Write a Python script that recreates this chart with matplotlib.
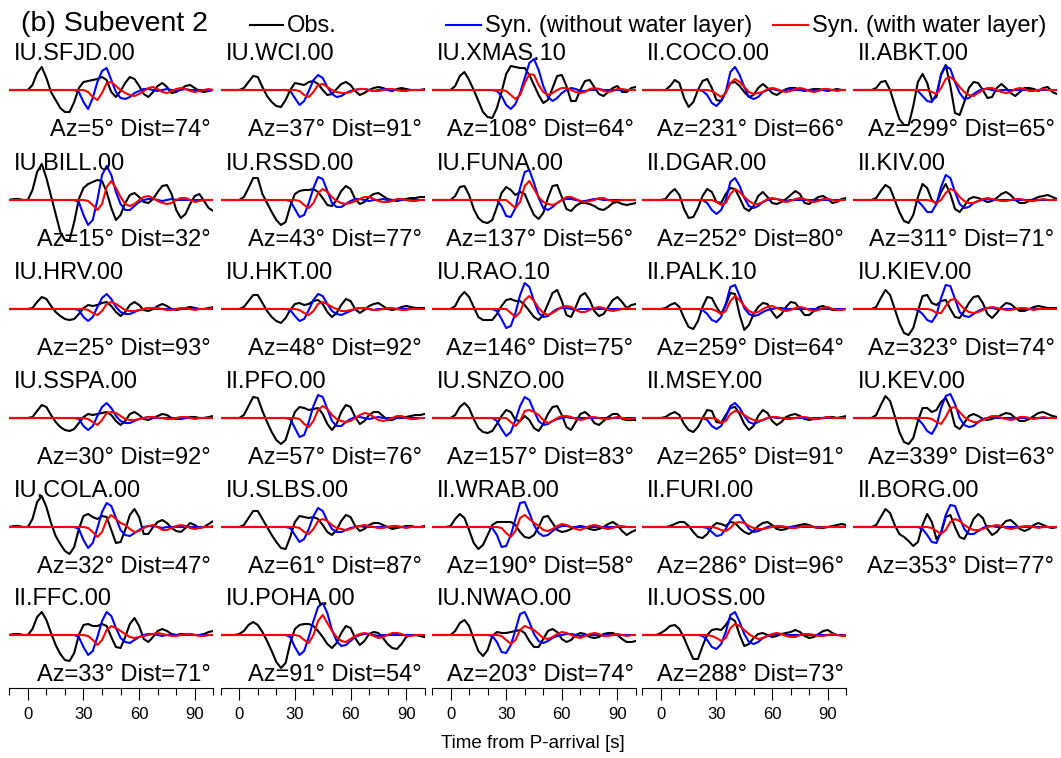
import numpy as np
from matplotlib import pyplot as plt
from matplotlib.lines import Line2D
from matplotlib.ticker import MultipleLocator

plt.rcParams["font.family"] = ["Liberation Sans", "DejaVu Sans"]

# sample times, seconds after the P arrival
obs_times = np.arange(-10, 100.1, 2.5)
syn_times = np.arange(20, 100.1, 2.5)
# synthetics are zero before this time
syn_onset = 20

# stations sorted by azimuth, laid out column by column
stations = [
    "IU.SFJD.00", "IU.BILL.00", "IU.HRV.00", "IU.SSPA.00", "IU.COLA.00", "II.FFC.00",
    "IU.WCI.00", "IU.RSSD.00", "IU.HKT.00", "II.PFO.00", "IU.SLBS.00", "IU.POHA.00",
    "IU.XMAS.10", "IU.FUNA.00", "IU.RAO.10", "IU.SNZO.00", "II.WRAB.00", "IU.NWAO.00",
    "II.COCO.00", "II.DGAR.00", "II.PALK.10", "II.MSEY.00", "II.FURI.00", "II.UOSS.00",
    "II.ABKT.00", "II.KIV.00", "IU.KIEV.00", "IU.KEV.00", "II.BORG.00",
]
azimuths = [5, 15, 25, 30, 32, 33, 37, 43, 48, 57, 61, 91, 108, 137, 146, 157, 190, 203,
            231, 252, 259, 265, 286, 288, 299, 311, 323, 339, 353]
distances = [74, 32, 93, 92, 47, 71, 91, 77, 92, 76, 87, 54, 64, 56, 75, 83, 58, 74,
             66, 80, 64, 91, 96, 73, 65, 71, 74, 63, 77]

# observed P waveforms (normalised amplitude)
obs = {
    "IU.SFJD.00": [0, 0, 0, 0, 0, 5, 17, 23, 12,
                   -2, -10, -18, -22, -22, -12, 2, 8,
                   9, 10, 11, 13, 10, -2, -7, -1,
                   7, 13, 11, 4, -4, -7, -2, 4,
                   7, 3, -3, -2, 1, 4, 5, 2,
                   -1, -2, -1, 0],
    "IU.BILL.00": [0, 1, 1, 0, 0, 10, 28, 36, 22,
                   4, -14, -32, -40, -40, -22, 1, 12,
                   16, 18, 20, 19, 8, -8, -20, -15,
                   -3, 5, 7, 3, -2, -3, 1, 8,
                   14, 15, 6, -10, -18, -14, -4, 4,
                   6, -1, -8, -11],
    "IU.HRV.00": [0, 0, 0, 0, 0, 1, 7, 12, 10,
                  3, -3, -7, -10, -11, -10, -5, 1,
                  4, 3, 4, 6, 7, 3, -3, -7,
                  -3, 4, 7, 4, -1, -2, 0, 3,
                  5, 3, 0, -1, 0, 1, 2, 1,
                  0, 0, 1, 2],
    "IU.SSPA.00": [0, 0, 0, 0, 0, 1, 7, 13, 11,
                   3, -4, -9, -12, -13, -11, -5, 1,
                   4, 3, 4, 5, 6, 3, -3, -7,
                   -3, 4, 6, 3, -1, -2, 0, 2,
                   4, 3, 0, -1, -1, 0, 1, 1,
                   0, 0, 1, 2],
    "IU.COLA.00": [0, 1, 1, 0, 0, 8, 25, 31, 20,
                   4, -9, -17, -24, -27, -20, -2, 11,
                   13, 10, 8, 11, 10, -3, -16, -15,
                   -3, 12, 18, 10, -7, -7, 0, 5,
                   7, 4, -1, -4, -5, -1, 4, 2,
                   -1, 0, 3, 6],
    "II.FFC.00": [0, 1, 1, 0, 0, 6, 18, 23, 15,
                  2, -10, -19, -25, -26, -18, 0, 10,
                  11, 9, 9, 11, 9, -2, -12, -13,
                  -2, 11, 17, 9, -4, -7, -2, 4,
                  6, 4, 1, 0, 1, 1, 1, 0,
                  0, 1, 3, 4],
    "IU.WCI.00": [0, 0, 0, 0, 0, 2, 8, 14, 13,
                  3, -6, -12, -16, -17, -10, 0, 7,
                  6, 5, 8, 9, 6, 0, -5, -4,
                  1, 6, 8, 5, -1, -5, -3, 0,
                  2, 3, 2, 0, -1, 1, 2, 1,
                  0, 0, 0, 1],
    "IU.RSSD.00": [0, 0, 0, 0, 0, 3, 12, 22, 22,
                   6, -3, -12, -20, -25, -22, -6, 6,
                   9, 10, 10, 11, 8, 2, -5, -6,
                   0, 9, 14, 11, 1, -4, -2, 3,
                   6, 7, 4, 1, 0, -1, 0, 1,
                   2, 2, 3, 3],
    "IU.HKT.00": [0, 0, 0, 0, 0, 2, 8, 14, 14,
                  6, -2, -8, -12, -14, -9, -1, 5,
                  6, 4, 5, 8, 9, 5, -3, -8,
                  -4, 4, 10, 8, 0, -4, -1, 3,
                  5, 6, 3, 0, -1, 0, 2, 3,
                  2, 1, 1, 1],
    "II.PFO.00": [0, 0, 0, 0, 0, 3, 12, 21, 20,
                  7, -4, -14, -22, -26, -22, -7, 6,
                  11, 10, 8, 9, 10, 4, -6, -12,
                  -6, 6, 13, 11, 1, -6, -3, 3,
                  6, 6, 2, -2, -2, 0, 1, 1,
                  2, 3, 3, 4],
    "IU.SLBS.00": [0, 0, 0, 0, 0, 2, 9, 16, 16,
                   8, 0, -8, -15, -21, -22, -10, 5,
                   11, 10, 9, 10, 8, 2, -5, -8,
                   -3, 6, 12, 10, 1, -4, -2, 2,
                   4, 4, 2, 0, -2, -1, 0, 1,
                   1, 0, 0, 1],
    "IU.POHA.00": [0, 0, 0, 0, 1, 4, 10, 13, 10,
                   3, -6, -16, -27, -33, -28, -8, 6,
                   10, 11, 11, 9, 4, -2, -9, -13,
                   -8, 2, 9, 7, -3, -10, -6, 1,
                   3, 2, -3, -9, -13, -14, -9, -2,
                   0, 0, -1, -2],
    "IU.XMAS.10": [0, 0, 0, 0, 0, 4, 14, 18, 10,
                   0, -11, -22, -27, -28, -18, -2, 16,
                   24, 23, 22, 22, 15, 5, -5, -13,
                   -10, 2, 14, 15, 4, -11, -11, 0,
                   9, 10, 3, -4, -6, -2, 2, 4,
                   -2, -2, 2, 3],
    "IU.FUNA.00": [0, 0, 0, 0, 0, 4, 13, 14, 5,
                   -9, -18, -22, -23, -20, -7, 7, 13,
                   10, 5, 8, 6, -5, -15, -19, -13,
                   2, 14, 15, 3, -9, -11, -6, -3,
                   -3, -4, -6, -9, -10, -7, -3, -2,
                   -4, -5, -4, -3],
    "IU.RAO.10": [0, 0, 0, 0, 0, 3, 12, 17, 12,
                  2, -8, -11, -11, -11, -5, 3, 9,
                  10, 8, 8, 4, -2, -8, -11, -6,
                  5, 16, 19, 8, -6, -8, 2, 13,
                  16, 9, -2, -7, -5, 2, 9, 12,
                  7, 1, 4, 5],
    "IU.SNZO.00": [0, 0, 0, 0, 0, 3, 11, 15, 10,
                   -1, -10, -14, -15, -13, -6, 2, 8,
                   6, -2, -3, 2, -2, -10, -13, -6,
                   4, 11, 12, 3, -9, -12, -4, 4,
                   6, 2, -5, -7, -3, 1, 4, 4,
                   -1, -2, -2, -2],
    "II.WRAB.00": [0, 0, 0, 0, 1, 8, 13, 9, -3,
                   -16, -22, -18, -8, 2, 5, 5, 5,
                   5, 2, -5, -10, -11, -8, 0, 10,
                   11, 4, -3, -5, -4, -2, 0, 1,
                   0, -2, -3, -2, 0, 3, 5, 2,
                   -4, -8, -5, -3],
    "IU.NWAO.00": [0, 0, 0, 0, 0, 4, 12, 15, 9,
                   -4, -16, -21, -15, -1, 3, 2, 2,
                   3, 4, 5, 2, -6, -12, -12, -4,
                   4, 6, 3, -4, -7, -5, 0, 2,
                   1, -2, -3, -2, 1, 2, 2, 0,
                   -4, -7, -7, -6],
    "II.COCO.00": [0, 0, 0, 0, 0, 0, 4, 10, 7,
                   -8, -17, -12, 0, 9, 11, 2, -10,
                   -11, -2, 7, 8, 4, -2, -7, -5,
                   2, 6, 2, -3, -5, -2, 1, 2,
                   2, 0, -1, 0, 1, 1, 0, -1,
                   0, 1, 0, 0],
    "II.DGAR.00": [0, 0, 0, 0, 0, 1, 7, 11, 5,
                   -9, -18, -17, -8, 4, 11, 8, -2,
                   -3, 6, 12, 11, 2, -8, -11, -6,
                   4, 8, 3, -3, -4, -2, 1, 5,
                   9, 6, -3, -4, 0, 3, 4, 1,
                   -3, -2, 1, 2],
    "II.PALK.10": [0, 0, 0, 0, 0, 1, 4, 6, 2,
                   -9, -18, -20, -12, 2, 12, 11, 2,
                   -5, 4, 16, 15, -6, -21, -16, -5,
                   2, 6, 5, -3, -9, -5, 2, 7,
                   6, 0, -6, -6, -2, 2, 3, 1,
                   -1, -1, 0, 0],
    "II.MSEY.00": [0, 0, 0, 0, 0, 1, 4, 6, 3,
                   -6, -12, -14, -9, 0, 8, 7, -4,
                   -5, 3, 10, 11, 4, -6, -12, -8,
                   2, 8, 5, -3, -7, -4, 1, 3,
                   4, 2, -1, -2, -1, 0, 0, 1,
                   1, 0, 1, 2],
    "II.FURI.00": [0, 0, 0, 0, 0, 0, 1, 3, 5,
                   5, 1, -5, -10, -11, -7, 0, 4,
                   3, 1, 5, 4, -1, -5, -7, -4,
                   1, 4, 5, 2, -2, -3, -2, 0,
                   1, 2, 3, 2, 0, -1, -1, 0,
                   1, 2, 3, 2],
    "II.UOSS.00": [0, 0, 0, 0, 2, 5, 9, 10, 6,
                   -3, -14, -24, -24, -11, 0, 5, 6,
                   5, 10, 17, 14, 0, -11, -9, -3,
                   1, 2, 0, -2, -1, 1, 2, 3,
                   5, 3, -1, -3, -2, 1, 4, 5,
                   2, 0, 0, -1],
    "II.ABKT.00": [0, 0, 0, 0, 0, 2, 8, 9, 0,
                   -15, -29, -35, -35, -16, 8, 16, 7,
                   -10, -7, 16, 25, 4, -23, -25, -12,
                   2, 8, 7, 0, -8, -7, 2, 6,
                   2, -3, -6, -2, 2, 2, 1, -1,
                   2, 3, -2, -4],
    "II.KIV.00": [0, 0, 0, 0, 0, 2, 9, 15, 12,
                  0, -12, -21, -23, -15, 3, 16, 12,
                  0, -4, 8, 16, 6, -9, -12, -6,
                  1, 3, 2, 0, -2, -1, 2, 6,
                  8, 5, 0, -3, -3, -1, 1, 3,
                  4, 5, 3, 1],
    "IU.KIEV.00": [0, 0, 0, 0, 0, 2, 11, 19, 14,
                   0, -14, -24, -26, -19, -2, 13, 14,
                   6, 4, 8, 9, 0, -8, -9, -2,
                   6, 12, 13, 6, -5, -9, -4, 2,
                   6, 5, 1, -2, -2, 0, 2, 3,
                   2, 1, 1, 1],
    "IU.KEV.00": [0, 0, 0, 0, 0, 3, 13, 22, 17,
                  2, -14, -24, -26, -20, -3, 10, 10,
                  6, 8, 16, 20, 10, -8, -11, -5,
                  2, 4, 2, -1, -2, -1, 1, 3,
                  5, 4, 0, -3, -3, -1, 2, 5,
                  6, 4, 2, 1],
    "II.BORG.00": [0, 0, 0, 0, 0, 2, 10, 18, 14,
                   2, -7, -10, -14, -19, -15, 2, 13,
                   5, -12, -6, 10, 12, 0, -10, -12,
                   -3, 8, 13, 9, -2, -8, -5, 1,
                   6, 7, 3, -2, -4, -2, 2, 4,
                   2, 0, -1, 0],
}

# synthetics without the water layer, from syn_onset on
syn_dry = {
    "IU.SFJD.00": [0, 0, 0, -2, -12, -19, -8, 8, 19, 22, 10, -2, -8, -9, -7, -3,
                   -1, 1, 1, 0, -1, 0, 1, 0, -1, 0, 1, 0, 0, 0, 0, 0, 0],
    "IU.BILL.00": [0, 0, 0, -2, -15, -25, -20, 0, 25, 34, 25, 8, -4, -10, -10, -6,
                   -2, 0, 1, 1, 0, -1, 0, 1, 0, 0, 0, 0, 0, 0, 0, 0, 0],
    "IU.HRV.00": [0, 0, 0, -1, -8, -12, -8, 2, 11, 15, 10, 2, -3, -5, -5, -3,
                  -1, 0, 1, 0, 0, 0, 0, 0, 0, 0, 0, 0, 0, 0, 0, 0, 0],
    "IU.SSPA.00": [0, 0, 0, -1, -8, -12, -8, 2, 11, 15, 10, 2, -3, -5, -5, -3,
                   -1, 0, 1, 0, 0, 0, 0, 0, 0, 0, 0, 0, 0, 0, 0, 0, 0],
    "IU.COLA.00": [0, 0, 0, -2, -13, -21, -16, -1, 15, 24, 21, 9, -3, -8, -9, -6,
                   -3, 0, 1, 1, 0, -1, 0, 0, 0, 0, 0, 0, 0, 0, 0, 0, 0],
    "II.FFC.00": [0, 0, 0, -2, -12, -20, -16, -2, 14, 23, 19, 7, -3, -7, -8, -5,
                  -2, 0, 1, 1, 0, -1, 0, 0, 0, 0, 0, 0, 0, 0, 0, 0, 0],
    "IU.WCI.00": [0, 0, 0, -1, -8, -15, -11, -1, 10, 15, 12, 3, -4, -7, -6, -3,
                  -1, 0, 1, 1, 0, -1, 0, 1, 0, 0, 0, 0, 0, 0, 0, 0, 0],
    "IU.RSSD.00": [0, 0, 0, -1, -9, -17, -15, -3, 12, 23, 21, 9, -3, -7, -7, -4,
                   -1, 1, 1, 0, -1, 0, 0, 1, 0, 0, 0, 0, 0, 0, 0, 0, 0],
    "IU.HKT.00": [0, 0, 0, -1, -7, -12, -10, -1, 9, 15, 13, 5, -2, -5, -6, -4,
                  -2, 0, 1, 0, 0, -1, 0, 0, 0, 0, 0, 0, 0, 0, 0, 0, 0],
    "II.PFO.00": [0, 0, 0, -1, -10, -19, -17, -4, 12, 23, 21, 9, -3, -8, -8, -4,
                  -1, 1, 1, 0, -1, 0, 1, 0, 0, 0, 0, 0, 0, 0, 0, 0, 0],
    "IU.SLBS.00": [0, 0, 0, -1, -8, -15, -12, -2, 11, 19, 16, 6, -2, -5, -5, -3,
                   -1, 0, 1, 0, 0, 0, 0, 0, 0, 0, 0, 0, 0, 0, 0, 0, 0],
    "IU.POHA.00": [0, 0, 0, -2, -12, -20, -16, -2, 14, 28, 32, 22, 5, -6, -11, -10,
                   -6, -2, 0, 1, 1, 0, -1, 0, 0, 0, 0, 0, 0, 0, 0, 0, 0],
    "IU.XMAS.10": [0, 0, -1, -6, -15, -19, -14, -3, 12, 27, 31, 20, 4, -7, -11, -8,
                   -3, 0, 2, 1, -1, -1, 0, 0, 1, 0, 0, 0, 0, 0, 0, 0, 0],
    "IU.FUNA.00": [0, 0, 0, -6, -16, -17, -8, 12, 28, 30, 17, 2, -8, -10, -7, -3,
                   0, 1, 1, 0, -1, -1, 0, 1, 1, 0, 0, 0, 0, 0, 0, 0, 0],
    "IU.RAO.10": [0, 0, -2, -10, -19, -17, -4, 14, 26, 22, 8, -4, -8, -7, -3, 0,
                  1, 1, 0, -1, 0, 0, 0, 0, 0, 0, 0, 0, 0, 0, 0, 0, 0],
    "IU.SNZO.00": [0, 0, -3, -11, -18, -14, -2, 12, 21, 18, 7, -3, -7, -6, -3, -1,
                   0, 1, 0, 0, 0, 0, 0, 0, 0, 0, 0, 0, 0, 0, 0, 0, 0],
    "II.WRAB.00": [0, -1, -8, -20, -19, -8, 8, 24, 25, 14, 2, -6, -9, -8, -4, -1,
                   1, 1, 0, 0, 0, 0, 0, 0, 0, 0, 0, 0, 0, 0, 0, 0, 0],
    "IU.NWAO.00": [0, -1, -7, -17, -18, -10, 5, 21, 23, 13, 1, -6, -8, -6, -3, -1,
                   0, 1, 1, 0, -1, 0, 0, 0, 0, 0, 0, 0, 0, 0, 0, 0, 0],
    "II.COCO.00": [0, -1, -5, -13, -16, -11, -2, 18, 23, 15, 3, -7, -9, -7, -2, 0,
                   1, 0, -1, 0, 1, 0, 0, 0, 0, 0, 0, 0, 0, 0, 0, 0, 0],
    "II.DGAR.00": [0, 0, -3, -10, -14, -10, 0, 18, 22, 14, 2, -6, -8, -6, -2, 0,
                   1, 1, 0, -1, 0, 0, 0, 0, 0, 0, 0, 0, 0, 0, 0, 0, 0],
    "II.PALK.10": [0, -1, -5, -11, -13, -8, 5, 22, 24, 13, 1, -5, -7, -6, -3, -1,
                   0, 1, 1, 0, 0, 0, 0, 0, 0, 0, 0, 0, 0, 0, 0, 0, 0],
    "II.MSEY.00": [0, 0, -2, -8, -11, -8, 1, 12, 15, 10, 2, -4, -6, -4, -2, 0,
                   1, 0, 0, 0, 0, 0, 0, 0, 0, 0, 0, 0, 0, 0, 0, 0, 0],
    "II.FURI.00": [0, 0, -1, -5, -9, -8, -2, 7, 12, 12, 5, -2, -5, -4, -2, 0,
                   1, 0, 0, 0, 0, 0, 0, 0, 0, 0, 0, 0, 0, 0, 0, 0, 0],
    "II.UOSS.00": [0, -1, -5, -12, -14, -9, 3, 20, 23, 13, 1, -7, -9, -7, -3, -1,
                   0, 1, 1, 0, 0, 0, 0, 0, 0, 0, 0, 0, 0, 0, 0, 0, 0],
    "II.ABKT.00": [0, 0, -1, -6, -11, -12, -4, 15, 24, 21, 8, -3, -9, -8, -4, -1,
                   1, 1, 0, -1, 0, 0, 0, 0, 0, 0, 0, 0, 0, 0, 0, 0, 0],
    "II.KIV.00": [0, 0, -1, -6, -12, -12, -4, 13, 25, 22, 8, -4, -8, -7, -3, -1,
                  0, 1, 0, 0, 0, 0, 0, 0, 0, 0, 0, 0, 0, 0, 0, 0, 0],
    "IU.KIEV.00": [0, 0, -1, -5, -11, -13, -6, 11, 24, 23, 10, -3, -7, -8, -5, -2,
                   0, 1, 1, 0, 0, 0, 0, 0, 0, 0, 0, 0, 0, 0, 0, 0, 0],
    "IU.KEV.00": [0, 0, -1, -6, -13, -16, -8, 10, 22, 24, 14, 0, -7, -9, -8, -4,
                  -1, 0, 1, 0, 0, 0, 0, 0, 0, 0, 0, 0, 0, 0, 0, 0, 0],
    "II.BORG.00": [0, 0, 0, -2, -8, -15, -16, -5, 12, 22, 21, 9, -2, -7, -7, -4,
                   -1, 1, 1, 0, 0, 0, 0, 0, 0, 0, 0, 0, 0, 0, 0, 0, 0],
}

# synthetics with the water layer, from syn_onset on
syn_wet = {
    "IU.SFJD.00": [0, 0, 0, 0, 0, -2, -7, -10, -3, 7, 8, 4, 0, -3, -5, -6,
                   -4, -1, 2, 3, 1, -2, -3, -1, 1, 2, 1, -1, -2, -1, 0, 1, 0],
    "IU.BILL.00": [0, 0, 0, 0, 0, -1, -5, -10, -4, 13, 19, 12, 3, -4, -6, -4,
                   0, 3, 4, 2, -1, -3, -4, -3, 0, 2, 2, 0, -2, -1, 0, 0, 0],
    "IU.HRV.00": [0, 0, 0, 0, 0, -1, -4, -6, -2, 5, 7, 5, 2, -1, -2, -2,
                  -1, 0, 1, 1, 1, 0, -1, -1, 0, 1, 1, 0, -1, 0, 0, 0, 1],
    "IU.SSPA.00": [0, 0, 0, 0, 0, -1, -4, -7, -2, 5, 6, 5, 2, -1, -2, -2,
                   -1, 0, 1, 1, 0, 0, -1, -1, 0, 1, 1, 0, -1, 0, 0, 0, 0],
    "IU.COLA.00": [0, 0, 0, 0, 0, -1, -5, -10, -5, 7, 12, 8, 4, 2, -2, -5,
                   -4, -1, 1, 2, 0, -3, -3, -1, 1, 2, 1, -1, -2, -1, 0, 0, 1],
    "II.FFC.00": [0, 0, 0, 0, 0, -1, -5, -10, -5, 5, 9, 7, 4, 1, -2, -3,
                  -2, -1, 0, 1, 2, 1, 0, -1, -1, 0, 1, 1, 0, -1, -1, 0, 0],
    "IU.WCI.00": [0, 0, 0, 0, 0, -1, -5, -7, -2, 5, 6, 3, 0, -2, -3, -3,
                  -2, 0, 1, 1, 0, -1, -1, 0, 1, 1, 0, -1, -1, 0, 0, 0, 0],
    "IU.RSSD.00": [0, 0, 0, 0, 0, -1, -5, -8, -3, 7, 11, 8, 3, -1, -3, -4,
                   -3, -1, 1, 3, 3, 1, -1, -2, -2, -1, 1, 1, 0, -1, -1, 0, 0],
    "IU.HKT.00": [0, 0, 0, 0, 0, -1, -4, -6, -2, 5, 7, 5, 2, 0, -2, -2,
                  -1, 0, 1, 1, 0, -1, -1, 0, 1, 1, 0, -1, -1, 0, 0, 0, 0],
    "II.PFO.00": [0, 0, 0, 0, 0, -1, -6, -9, -3, 8, 12, 9, 3, -1, -3, -4,
                  -3, 0, 3, 5, 4, 1, -2, -3, -2, 0, 2, 2, 0, -1, -1, 0, 0],
    "IU.SLBS.00": [0, 0, 0, 0, 0, -1, -5, -7, -2, 6, 8, 6, 2, -1, -2, -3,
                   -2, 0, 1, 2, 1, 0, -1, -1, 0, 1, 1, 0, -1, 0, 0, 0, 0],
    "IU.POHA.00": [0, 0, 0, 0, 0, -1, -5, -8, 0, 14, 20, 12, 4, -2, -6, -7,
                   -4, -1, 1, 2, 1, -1, -3, -2, 0, 2, 2, 1, -1, -1, 0, 0, 0],
    "IU.XMAS.10": [0, 0, 0, 0, -1, -5, -9, -5, 7, 16, 15, 5, -2, -5, -3, 0,
                   2, 2, 0, -2, -3, -2, 1, 2, 1, -1, -2, -1, 1, 1, 0, 0, 0],
    "IU.FUNA.00": [0, 0, 0, 0, 0, -4, -8, -2, 14, 19, 11, 3, -2, -4, -5, -3,
                   0, 3, 3, 1, -1, -2, -1, 0, 2, 2, 0, -1, -1, 0, 0, 0, 0],
    "IU.RAO.10": [0, 0, 0, 0, 0, -4, -8, -3, 9, 13, 8, 1, -4, -6, -4, -1,
                  2, 3, 2, -1, -3, -3, -1, 1, 2, 1, -1, -2, -1, 0, 1, 0, 0],
    "IU.SNZO.00": [0, 0, 0, 0, 0, -4, -8, -3, 7, 8, 6, 3, -2, -5, -3, 0,
                   2, 2, 1, -1, -2, -1, 1, 1, 0, -1, -1, 0, 1, 0, -1, -1, 0],
    "II.WRAB.00": [0, 0, 0, -1, -6, -10, -4, 9, 12, 8, 4, 1, -3, -4, -2, 1,
                   3, 2, 0, -2, -3, -1, 1, 2, 1, -1, -2, -1, 1, 1, 0, 0, 0],
    "IU.NWAO.00": [0, 0, 0, -1, -5, -9, -5, 5, 9, 7, 5, 1, -3, -4, -2, 1,
                   3, 2, 0, -2, -3, -1, 1, 2, 1, -1, -1, 0, 1, 0, -1, 0, 0],
    "II.COCO.00": [0, 0, 0, -1, -4, -7, -3, 7, 11, 8, 3, -2, -4, -3, -2, 1,
                   2, 1, -1, -2, -1, 1, 2, 1, -1, -2, -1, 1, 1, 0, -1, 0, 0],
    "II.DGAR.00": [0, 0, 0, 0, -2, -5, -3, 6, 11, 8, 3, -1, -4, -4, -2, 1,
                   2, 1, -1, -2, -1, 1, 2, 1, -1, -2, -1, 1, 1, 0, -1, 0, 0],
    "II.PALK.10": [0, 0, 0, 0, -2, -5, -2, 8, 13, 9, 3, -2, -4, -3, 0, 2,
                   3, 1, -1, -2, -1, 1, 2, 1, -1, -2, -1, 1, 2, 0, -1, -1, 0],
    "II.MSEY.00": [0, 0, 0, 0, -1, -5, -3, 4, 7, 6, 3, 0, -2, -3, -2, 0,
                   1, 1, 0, -1, -1, 0, 1, 1, 0, -1, -1, 0, 1, 0, 0, 0, 0],
    "II.FURI.00": [0, 0, 0, 0, -1, -3, -4, -1, 4, 5, 4, 1, -1, -2, -2, -1,
                   0, 1, 1, 0, -1, -1, 0, 1, 1, 0, -1, 0, 0, 0, 0, 0, 0],
    "II.UOSS.00": [0, 0, 0, -1, -3, -6, -3, 7, 11, 9, 5, 1, -2, -4, -3, -1,
                   1, 2, 1, -1, -2, -2, 0, 1, 1, 0, -1, -1, 0, 1, 0, -1, 0],
    "II.ABKT.00": [0, 0, 0, 0, 0, -2, -4, 2, 11, 13, 9, 3, -2, -5, -6, -3,
                   0, 2, 2, 0, -2, -3, -2, 1, 2, 1, -1, -1, 0, 1, 0, 0, 0],
    "II.KIV.00": [0, 0, 0, 0, 0, -1, -3, 0, 7, 11, 9, 3, -1, -3, -3, -1,
                  1, 2, 1, 0, -1, -1, 0, 1, 1, 0, -1, -1, 0, 1, 0, 0, 0],
    "IU.KIEV.00": [0, 0, 0, 0, 0, -1, -4, -4, 3, 9, 10, 5, 0, -3, -4, -3,
                   -1, 1, 2, 1, 0, -1, -1, 0, 1, 1, 0, -1, 0, 0, 0, 0, 0],
    "IU.KEV.00": [0, 0, 0, 0, 0, -1, -4, -6, 1, 10, 11, 6, 1, -2, -4, -4,
                  -2, 0, 2, 2, 0, -1, -2, -1, 1, 1, 0, -1, 0, 1, 0, 0, 0],
    "II.BORG.00": [0, 0, 0, 0, 0, -1, -4, -7, -3, 5, 8, 6, 2, -1, -3, -3,
                   -2, 0, 1, 2, 1, -1, -2, -1, 0, 1, 1, 0, -1, 0, 0, 0, 0],
}

# page layout in pixels
W, H = 1061, 758
col_left = [9.3, 220.7, 432.0, 642.3, 853.0]
row_base = [90, 200, 309, 418, 527, 635]
panel_w = 204
half_h = 53
n_rows = 6

# synthetics are flat before the onset; extend them to the start of the window
pre_onset = obs_times[obs_times < syn_onset]
syn_full_times = np.concatenate([pre_onset, syn_times])


def full_synthetic(values):
    return np.concatenate([np.zeros(len(pre_onset)), values])


fig = plt.figure(figsize=(W / 100, H / 100), dpi=100)
fig.patch.set_facecolor("white")

for i, name in enumerate(stations):
    col, row = divmod(i, n_rows)
    ax = fig.add_axes([col_left[col] / W, 1 - (row_base[row] + half_h) / H,
                       panel_w / W, 2 * half_h / H])
    ax.patch.set_visible(False)
    ax.plot(obs_times, obs[name], color="black", lw=1.5, solid_joinstyle="round")
    ax.plot(syn_full_times, full_synthetic(syn_dry[name]), color="#0000ff", lw=1.5,
            solid_joinstyle="round")
    ax.plot(syn_full_times, full_synthetic(syn_wet[name]), color="#ff0000", lw=1.5,
            solid_joinstyle="round")
    ax.set_xlim(-10, 100)
    ax.set_ylim(-half_h, half_h)

    ax.text(-7.3, 30, name, fontsize=17, ha="left", va="baseline", clip_on=False)
    ax.text(98.6, -46, f"Az={azimuths[i]}° Dist={distances[i]}°", fontsize=17,
            ha="right", va="baseline", clip_on=False)

    for side in ["left", "right", "top"]:
        ax.spines[side].set_visible(False)
    ax.set_yticks([])
    # only the bottom row carries the time axis
    if row == n_rows - 1:
        ax.spines["bottom"].set_linewidth(0.8)
        ax.xaxis.set_major_locator(MultipleLocator(30))
        ax.xaxis.set_minor_locator(MultipleLocator(10))
        ax.tick_params(which="major", direction="out", length=8.6, width=0.8,
                       labelsize=12, pad=5)
        ax.tick_params(which="minor", direction="out", length=5, width=0.8)
    else:
        ax.spines["bottom"].set_visible(False)
        ax.set_xticks([])

# title and legend along the top
fig.text(20.7 / W, 1 - 31 / H, "(b) Subevent 2", fontsize=20.5, va="baseline")
legend_items = [
    (250, 283, "black", "Obs."),
    (446, 481, "#0000ff", "Syn. (without water layer)"),
    (773, 808, "#ff0000", "Syn. (with water layer)"),
]
for x0, x1, color, label in legend_items:
    fig.add_artist(Line2D([x0 / W, x1 / W], [1 - 25 / H, 1 - 25 / H],
                          color=color, lw=1.5, transform=fig.transFigure))
    fig.text((x1 + 4) / W, 1 - 32 / H, label, fontsize=17, va="baseline")

fig.text(533 / W, 1 - 743 / H, "Time from P-arrival [s]", fontsize=13.5,
         ha="center", va="center")

fig.savefig("out.png", dpi=100)
